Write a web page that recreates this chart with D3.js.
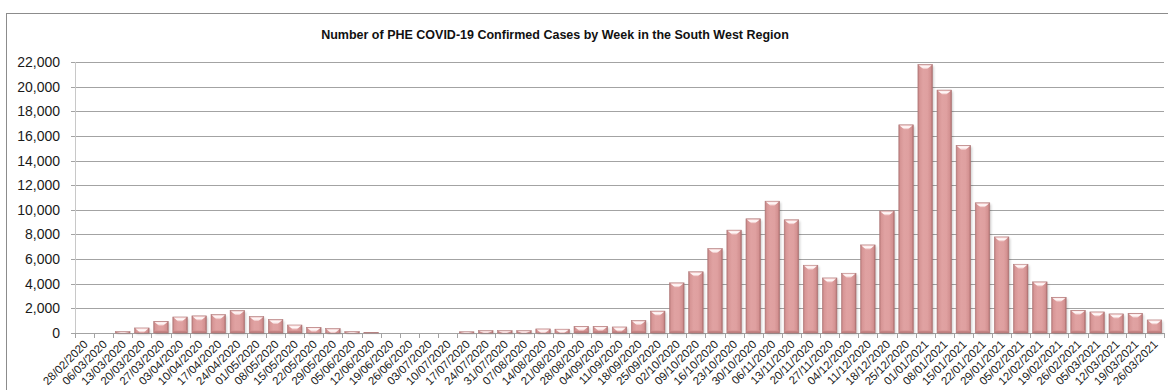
<!DOCTYPE html>
<html>
<head>
<meta charset="utf-8">
<script src="https://cdn.jsdelivr.net/npm/d3@7/dist/d3.min.js"></script>
<style>
  html, body { margin: 0; padding: 0; background: #ffffff; }
  svg { display: block; }
</style>
</head>
<body>
<script>
// Weekly confirmed cases, South West region
const weeks = ["28/02/2020","06/03/2020","13/03/2020","20/03/2020","27/03/2020","03/04/2020","10/04/2020","17/04/2020","24/04/2020","01/05/2020","08/05/2020","15/05/2020","22/05/2020","29/05/2020","05/06/2020","12/06/2020","19/06/2020","26/06/2020","03/07/2020","10/07/2020","17/07/2020","24/07/2020","31/07/2020","07/08/2020","14/08/2020","21/08/2020","28/08/2020","04/09/2020","11/09/2020","18/09/2020","25/09/2020","02/10/2020","09/10/2020","16/10/2020","23/10/2020","30/10/2020","06/11/2020","13/11/2020","20/11/2020","27/11/2020","04/12/2020","11/12/2020","18/12/2020","25/12/2020","01/01/2021","08/01/2021","15/01/2021","22/01/2021","29/01/2021","05/02/2021","12/02/2021","19/02/2021","26/02/2021","05/03/2021","12/03/2021","19/03/2021","26/03/2021"];

const cases = [0, 0, 110, 410, 950, 1300, 1390, 1490, 1820, 1330,
               1090, 650, 460, 350, 110, 40, 0, 0, 0, 0,
               100, 190, 190, 190, 330, 310, 540, 540, 490, 1010,
               1780, 4070, 4970, 6850, 8350, 9270, 10700, 9190, 5500, 4470,
               4850, 7150, 9910, 16900, 21790, 19720, 15230, 10570, 7800, 5580,
               4150, 2900, 1840, 1710, 1550, 1600, 1060];

const yTicks = [0, 2000, 4000, 6000, 8000, 10000, 12000, 14000, 16000, 18000, 20000, 22000];

const chartTitle = "Number of PHE COVID-19 Confirmed Cases by Week in the South West Region";

const W = 1168, H = 390;
const plot = { left: 75, right: 1164, top: 62, bottom: 333 };

const svg = d3.select("body").append("svg")
  .attr("width", W).attr("height", H);

const defs = svg.append("defs");

// horizontal shading across each bar body
const body = defs.append("linearGradient").attr("id", "barBody")
  .attr("x1", "0").attr("x2", "1").attr("y1", "0").attr("y2", "0");
[[0, "#b97a7a"], [0.12, "#d79696"], [0.35, "#e0a2a2"], [0.65, "#dfa0a0"], [0.88, "#d39191"], [1, "#a96a6a"]]
  .forEach(([o, c]) => body.append("stop").attr("offset", o).attr("stop-color", c));

// highlight on the bevelled cap
const cap = defs.append("linearGradient").attr("id", "barCap")
  .attr("x1", "0").attr("x2", "0").attr("y1", "0").attr("y2", "1");
[[0, "#fbe9e9"], [0.5, "#fff8f8"], [1, "#eab8b8"]]
  .forEach(([o, c]) => cap.append("stop").attr("offset", o).attr("stop-color", c));

// darker bevel at the foot of each bar
const foot = defs.append("linearGradient").attr("id", "barFoot")
  .attr("x1", "0").attr("x2", "0").attr("y1", "0").attr("y2", "1");
[[0, "#d49292"], [1, "#b27272"]]
  .forEach(([o, c]) => foot.append("stop").attr("offset", o).attr("stop-color", c));

defs.append("filter").attr("id", "soft")
  .attr("x", "-30%").attr("y", "-10%").attr("width", "160%").attr("height", "120%")
  .append("feGaussianBlur").attr("stdDeviation", 1);

// outer frame
svg.append("rect")
  .attr("x", 6.5).attr("y", 13.5)
  .attr("width", W + 20).attr("height", H + 20)
  .attr("fill", "none").attr("stroke", "#8c8c8c").attr("stroke-width", 1);

// title
svg.append("text")
  .attr("x", 555).attr("y", 39)
  .attr("text-anchor", "middle")
  .attr("font-family", "Liberation Sans, Arial, sans-serif")
  .attr("font-weight", "bold")
  .attr("font-size", 12.5)
  .attr("fill", "#111")
  .text(chartTitle);

const x = d3.scaleBand()
  .domain(weeks)
  .range([plot.left, plot.right])
  .paddingInner(0.24)
  .paddingOuter(0.12);

const y = d3.scaleLinear()
  .domain([0, 22000])
  .range([plot.bottom, plot.top]);

// horizontal gridlines with y axis labels
const yAxis = d3.axisLeft(y)
  .tickValues(yTicks)
  .tickFormat(d3.format(","))
  .tickSize(-(plot.right - plot.left) - 4)
  .tickPadding(11);

const yg = svg.append("g")
  .attr("transform", `translate(${plot.left - 4},0)`)
  .call(yAxis);
yg.select(".domain").remove();
yg.selectAll(".tick line")
  .attr("stroke", "#a3a3a3")
  .attr("shape-rendering", "crispEdges");
yg.selectAll(".tick text")
  .attr("font-family", "Liberation Sans, Arial, sans-serif")
  .attr("font-size", 14)
  .attr("fill", "#1a1a1a");

// vertical axis line
svg.append("line")
  .attr("x1", plot.left).attr("x2", plot.left)
  .attr("y1", y(22000)).attr("y2", plot.bottom + 4)
  .attr("stroke", "#c8c8c8")
  .attr("shape-rendering", "crispEdges");

// category axis along the bottom
const step = x.step();
const boundaries = weeks.map(w => x(w) - step * x.paddingInner() / 2).concat([plot.right]);
svg.append("g").selectAll("line")
  .data(boundaries)
  .join("line")
  .attr("x1", d => Math.round(d) + 0.5).attr("x2", d => Math.round(d) + 0.5)
  .attr("y1", plot.bottom).attr("y2", plot.bottom + 5)
  .attr("stroke", "#a3a3a3");

svg.append("g").selectAll("text")
  .data(weeks)
  .join("text")
  .attr("transform", d => `translate(${x(d) + x.bandwidth() / 2 + 4},${plot.bottom + 12}) rotate(-45)`)
  .attr("text-anchor", "end")
  .attr("font-family", "Liberation Sans, Arial, sans-serif")
  .attr("font-size", 11.5)
  .attr("fill", "#1a1a1a")
  .text(d => d);

// bars
const bw = x.bandwidth();
const bars = svg.append("g").selectAll("g")
  .data(weeks.map((w, i) => ({ week: w, value: cases[i] })).filter(d => d.value > 0))
  .join("g");

bars.append("rect")
  .attr("x", d => x(d.week) + 1.5)
  .attr("y", d => y(d.value) + 1.5)
  .attr("width", bw)
  .attr("height", d => plot.bottom - y(d.value))
  .attr("fill", "rgba(0,0,0,0.18)")
  .attr("filter", "url(#soft)");

bars.append("rect")
  .attr("x", d => x(d.week))
  .attr("y", d => y(d.value))
  .attr("width", bw)
  .attr("height", d => plot.bottom - y(d.value))
  .attr("fill", "url(#barBody)")
  .attr("stroke", "#b07a7a")
  .attr("stroke-width", 0.6);

bars.filter(d => plot.bottom - y(d.value) > 6).append("rect")
  .attr("x", d => x(d.week) + 0.5)
  .attr("y", plot.bottom - 2.5)
  .attr("width", bw - 1)
  .attr("height", 2.2)
  .attr("fill", "url(#barFoot)");

bars.append("path")
  .attr("d", d => {
    const x0 = x(d.week), x1 = x0 + bw, t = y(d.value);
    const h = Math.min(4.5, plot.bottom - t);
    const xc = (x0 + x1) / 2;
    return `M${x0 + 0.8},${t + 0.6} L${x1 - 0.8},${t + 0.6} L${xc + 2},${t + h} L${xc - 2},${t + h} Z`;
  })
  .attr("fill", "url(#barCap)");
</script>
</body>
</html>
